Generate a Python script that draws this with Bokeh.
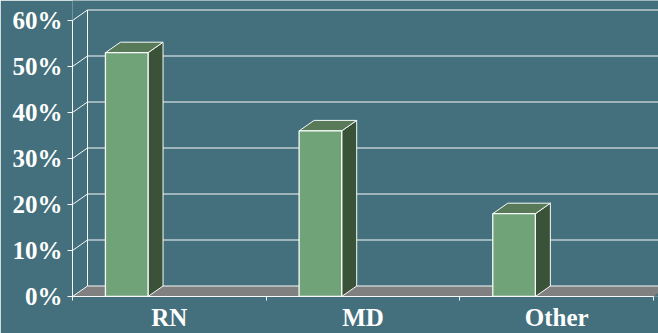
from bokeh.embed import file_html
from bokeh.models import FixedTicker, Range1d
from bokeh.plotting import figure
from bokeh.resources import INLINE

# Survey shares by profession
categories = ["RN", "MD", "Other"]
shares = [53, 36, 18]
percent_ticks = [0, 10, 20, 30, 40, 50, 60]
percent_labels = ["0%", "10%", "20%", "30%", "40%", "50%", "60%"]

BACKGROUND = "#43707c"
FRONT = "#70a378"
TOP = "#587a58"
SIDE = "#3a5238"
FLOOR = "#808080"
LINE = "#f8fafa"

# Pixel sizes of the frame, and of the pseudo-3D depth in data units
LEFT, BOTTOM, WIDTH, HEIGHT = 72, 37, 658, 333
PX_PER_CAT = 193.67
PX_PER_PCT = 4.6
DX = 15 / PX_PER_CAT
DY = 10.5 / PX_PER_PCT
BAR_START = 0.17
BAR_WIDTH = 0.22
N = len(categories)
TOP_PCT = percent_ticks[-1]

p = figure(
    width=WIDTH, height=HEIGHT, output_backend="svg", toolbar_location=None,
    x_range=Range1d(0, (WIDTH - LEFT) / PX_PER_CAT),
    y_range=Range1d(0, (HEIGHT - BOTTOM) / PX_PER_PCT),
    background_fill_color=BACKGROUND, border_fill_color=BACKGROUND,
    min_border_left=LEFT, min_border_right=0, min_border_top=0, min_border_bottom=BOTTOM,
    outline_line_color=None,
)
p.grid.visible = False

# Floor of the chart box
p.patch([0, N, N + DX, DX], [0, 0, DY, DY], fill_color=FLOOR, line_color=None)

# Back wall: gridlines, left edge, and connectors to the front axis
p.multi_line(
    [[0, DX, N + DX] for _ in percent_ticks],
    [[t, t + DY, t + DY] for t in percent_ticks],
    line_color=LINE, line_width=1,
)
p.line([DX, DX], [DY, TOP_PCT + DY], line_color=LINE, line_width=1)

# Bars: side and top faces are offset by the box depth
lefts = [i + BAR_START for i in range(N)]
rights = [x + BAR_WIDTH for x in lefts]
p.patches(
    [[r, r + DX, r + DX, r] for r in rights],
    [[0, DY, v + DY, v] for v in shares],
    fill_color=SIDE, line_color=LINE, line_width=1,
)
p.patches(
    [[l, l + DX, r + DX, r] for l, r in zip(lefts, rights)],
    [[v, v + DY, v + DY, v] for v in shares],
    fill_color=TOP, line_color=LINE, line_width=1,
)
p.vbar(
    x=[(l + r) / 2 for l, r in zip(lefts, rights)], width=BAR_WIDTH,
    top=shares, bottom=0, fill_color=FRONT, line_color=LINE, line_width=1.3,
)

# Value axis
ya = p.yaxis[0]
ya.ticker = FixedTicker(ticks=percent_ticks)
ya.major_label_overrides = dict(zip(percent_ticks, percent_labels))
ya.bounds = (0, TOP_PCT)
ya.minor_tick_line_color = None
ya.major_tick_in = 0
ya.major_tick_out = 5
ya.major_label_standoff = 5

# Category axis: names centred in each slot, ticks on slot boundaries
xa = p.xaxis[0]
centres = [i + 0.5 for i in range(N)]
xa.ticker = FixedTicker(ticks=centres, minor_ticks=list(range(N + 1)))
xa.major_label_overrides = dict(zip(centres, categories))
xa.bounds = (0, N)
xa.major_tick_in = 0
xa.major_tick_out = 0
xa.minor_tick_in = 0
xa.minor_tick_out = 4
xa.major_label_standoff = 3

for ax in (xa, ya):
    ax.axis_line_color = LINE
    ax.major_tick_line_color = LINE
    ax.major_label_text_color = "#ffffff"
    ax.major_label_text_font = "Liberation Serif"
    ax.major_label_text_font_style = "bold"
    ax.major_label_text_font_size = "25px"
xa.minor_tick_line_color = LINE

open("out.html", "w").write(file_html(p, INLINE))
